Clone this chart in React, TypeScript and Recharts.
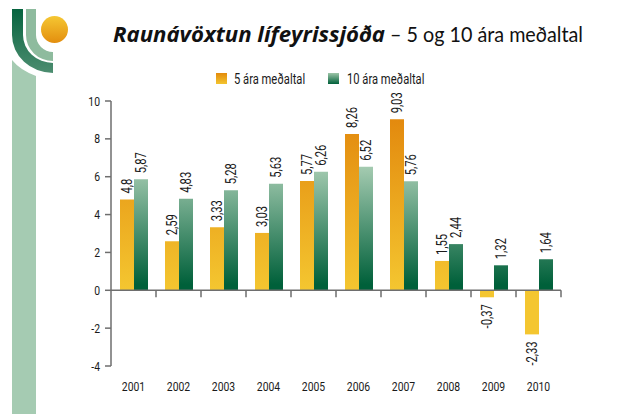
import React from "react";
import {
  BarChart,
  Bar,
  XAxis,
  YAxis,
  ReferenceLine,
  LabelList,
} from "recharts";

// Raunávöxtun lífeyrissjóða, 5 og 10 ára meðaltal
const years = ["2001", "2002", "2003", "2004", "2005", "2006", "2007", "2008", "2009", "2010"];
const fiveYearAvg = [4.8, 2.59, 3.33, 3.03, 5.77, 8.26, 9.03, 1.55, -0.37, -2.33];
const tenYearAvg = [5.87, 4.83, 5.28, 5.63, 6.26, 6.52, 5.76, 2.44, 1.32, 1.64];
const yTicks = [-4, -2, 0, 2, 4, 6, 8, 10];
const seriesNames = ["5 ára meðaltal", "10 ára meðaltal"];

const data = years.map((year, i) => ({
  year,
  five: fiveYearAvg[i],
  ten: tenYearAvg[i],
}));

const W = 622;
const H = 414;
const PLOT_LEFT = 111;
const PLOT_TOP = 101;
const PLOT_W = 450;
const PLOT_H = 265;
const Y_MIN = -4;
const Y_MAX = 10;
const yPix = (v: number) => PLOT_TOP + ((Y_MAX - v) / (Y_MAX - Y_MIN)) * PLOT_H;
const ZERO_Y = yPix(0);

const AXIS = "#6e6e6e";
const INK = "#1a1a1a";
const FONT = "Roboto, sans-serif";
const SQUEEZE = 0.8; // condensed look

const fmt = (v: number) => String(v).replace(".", ",");

const ValueLabel = (props: any) => {
  const { x, y, width, height, value } = props;
  const cx = Number(x) + Number(width) / 2;
  const top = Math.min(Number(y), Number(y) + Number(height));
  const bottom = Math.max(Number(y), Number(y) + Number(height));
  const neg = Number(value) < 0;
  const ty = neg ? bottom + 7 : top - 6;
  return (
    <text
      transform={`translate(${cx} ${ty}) rotate(-90) scale(${SQUEEZE} 1)`}
      textAnchor={neg ? "end" : "start"}
      dominantBaseline="central"
      fontFamily={FONT}
      fontSize={14}
      fill={INK}
    >
      {fmt(Number(value))}
    </text>
  );
};

const YearTick = (props: any) => {
  const { x, y, payload } = props;
  const half = PLOT_W / years.length / 2;
  return (
    <g>
      <line x1={x + half} x2={x + half} y1={ZERO_Y} y2={ZERO_Y + 7} stroke={AXIS} strokeWidth={1.5} />
      <text
        transform={`translate(${x} ${y + 17}) scale(${SQUEEZE} 1)`}
        textAnchor="middle"
        fontFamily={FONT}
        fontSize={13}
        fill={INK}
      >
        {payload.value}
      </text>
    </g>
  );
};

const ValueTick = (props: any) => {
  const { x, y, payload } = props;
  return (
    <text
      transform={`translate(${x} ${y + 4.5}) scale(${SQUEEZE} 1)`}
      textAnchor="end"
      fontFamily={FONT}
      fontSize={13}
      fill={INK}
    >
      {payload.value}
    </text>
  );
};

const Logo = () => (
  <svg width={W} height={H} style={{ position: "absolute", left: 0, top: 0 }}>
    <defs>
      <linearGradient id="sun" x1="0" y1="0" x2="0" y2="1">
        <stop offset="0" stopColor="#F5C733" />
        <stop offset="1" stopColor="#E38E0E" />
      </linearGradient>
      <linearGradient id="darkArc" x1="0" y1="0" x2="0" y2="1">
        <stop offset="0" stopColor="#06643F" />
        <stop offset="1" stopColor="#4C8D70" />
      </linearGradient>
      <linearGradient id="swOrange" x1="0" y1="0" x2="0" y2="1">
        <stop offset="0" stopColor="#E38B0C" />
        <stop offset="1" stopColor="#F3C42F" />
      </linearGradient>
      <linearGradient id="swGreen" x1="0" y1="0" x2="0" y2="1">
        <stop offset="0" stopColor="#9DC5A8" />
        <stop offset="1" stopColor="#00603A" />
      </linearGradient>
    </defs>
    {/* light stripe */}
    <path d="M12 414 L12 60 Q20 70 36 76 L36 414 Z" fill="#A5CBB2" />
    {/* dark green arc */}
    <path d="M12 9 L23 9 L23 35 A30 28 0 0 0 53 63 L53 73 A41 38 0 0 1 12 35 Z" fill="url(#darkArc)" />
    {/* light green arc */}
    <path d="M26 9 L36 9 L36 35 A17 17 0 0 0 53 52 L53 61 A27 26 0 0 1 26 35 Z" fill="#8EBB9E" />
    <circle cx={54.5} cy={29.5} r={13.5} fill="url(#sun)" />

    {/* title */}
    <text
      x={113}
      y={42}
      fontFamily='"Open Sans", sans-serif'
      fontWeight={700}
      fontStyle="italic"
      fontSize={21}
      fill="#111"
      textLength={272}
      lengthAdjust="spacingAndGlyphs"
    >
      Raunávöxtun lífeyrissjóða
    </text>
    <text
      x={390}
      y={42}
      fontFamily="Lato, sans-serif"
      fontSize={21}
      fill="#111"
      textLength={193}
      lengthAdjust="spacingAndGlyphs"
    >
      – 5 og 10 ára meðaltal
    </text>

    {/* legend */}
    <rect x={216} y={73} width={11} height={11} fill="url(#swOrange)" />
    <text transform={`translate(234 83.5) scale(${SQUEEZE} 1)`} fontFamily={FONT} fontSize={14} fill={INK}>
      {seriesNames[0]}
    </text>
    <rect x={328} y={73} width={11} height={11} fill="url(#swGreen)" />
    <text transform={`translate(347 83.5) scale(${SQUEEZE} 1)`} fontFamily={FONT} fontSize={14} fill={INK}>
      {seriesNames[1]}
    </text>
  </svg>
);

export default function App() {
  return (
    <div style={{ position: "absolute", left: 0, top: 0, width: W, height: H, background: "#fff" }}>
      <Logo />
      <div style={{ position: "absolute", left: 0, top: 0 }}>
        <BarChart
          width={W}
          height={H}
          data={data}
          margin={{ top: PLOT_TOP, right: W - PLOT_LEFT - PLOT_W, bottom: 0, left: 0 }}
          barCategoryGap="20%"
          barGap={0}
        >
          <defs>
            <linearGradient id="gOrange" gradientUnits="userSpaceOnUse" x1="0" y1={yPix(9)} x2="0" y2={yPix(0)}>
              <stop offset="0" stopColor="#E38A0E" />
              <stop offset="1" stopColor="#F4C630" />
            </linearGradient>
            <linearGradient id="gGreen" gradientUnits="userSpaceOnUse" x1="0" y1={yPix(6.6)} x2="0" y2={yPix(0.3)}>
              <stop offset="0" stopColor="#A6CCB2" />
              <stop offset="1" stopColor="#00603A" />
            </linearGradient>
          </defs>
          <XAxis
            dataKey="year"
            axisLine={false}
            tickLine={false}
            height={H - PLOT_TOP - PLOT_H}
            tick={<YearTick />}
            interval={0}
          />
          <YAxis
            domain={[Y_MIN, Y_MAX]}
            ticks={yTicks}
            width={PLOT_LEFT}
            axisLine={{ stroke: AXIS, strokeWidth: 1.5 }}
            tickLine={{ stroke: AXIS, strokeWidth: 1.5 }}
            tickSize={6}
            tickMargin={5}
            tick={<ValueTick />}
            allowDataOverflow
          />
          <ReferenceLine y={0} stroke={AXIS} strokeWidth={1.5} />
          <Bar dataKey="five" name={seriesNames[0]} fill="url(#gOrange)" isAnimationActive={false}>
            <LabelList dataKey="five" content={<ValueLabel />} />
          </Bar>
          <Bar dataKey="ten" name={seriesNames[1]} fill="url(#gGreen)" isAnimationActive={false}>
            <LabelList dataKey="ten" content={<ValueLabel />} />
          </Bar>
        </BarChart>
      </div>
    </div>
  );
}
